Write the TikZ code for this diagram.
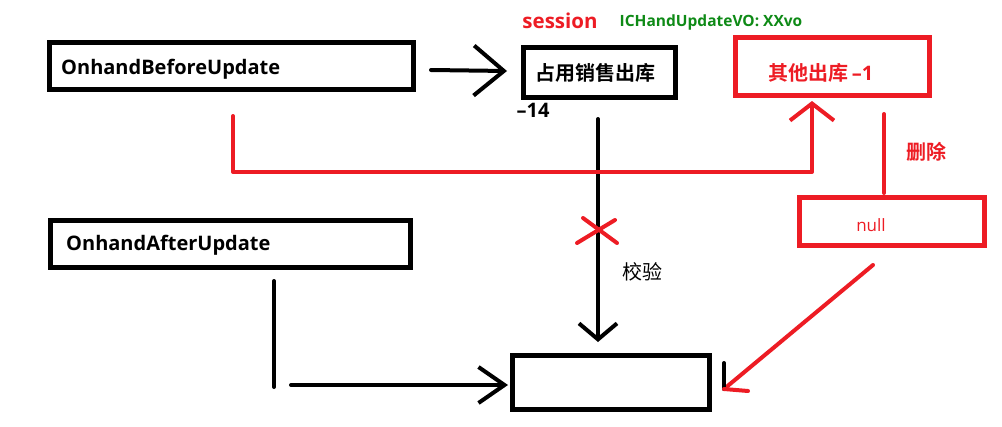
\documentclass[tikz,border=0pt]{standalone}
\usepackage{fontspec}
\setmainfont{Noto Sans CJK SC}[BoldFont={Noto Sans CJK SC Bold}]
\newfontfamily\lat{Open Sans}
\usetikzlibrary{arrows.meta,calc}
\definecolor{pred}{HTML}{ED1C24}
\definecolor{pgreen}{HTML}{0E8A16}
\tikzset{
  x=1pt, y=-1pt,
  bbox/.style={draw=black, line width=5pt, minimum width=#1, inner sep=0pt},
  rbox/.style={draw=pred, line width=5pt, minimum width=#1, inner sep=0pt},
  lbl/.style={inner sep=0pt, font=\lat\fontsize{20}{20}\selectfont\bfseries},
  conn/.style={line width=4pt, line cap=round, line join=round},
}
\begin{document}
\begin{tikzpicture}
\useasboundingbox (0,0) rectangle (1002,426);
% boxes
\node[bbox=364pt, minimum height=47pt] (before) at (231.5,66) {};
\node[bbox=152pt, minimum height=50pt] (occupy) at (599.5,72.5) {};
\node[rbox=194pt, minimum height=58pt] (other) at (832.5,66.5) {};
\node[rbox=185pt, minimum height=48pt] (null) at (892,221.5) {};
\node[bbox=360pt, minimum height=47pt] (after) at (230.5,244) {};
\node[bbox=197pt, minimum height=54pt] (result) at (611,382.5) {};
% texts
\node[lbl, anchor=west] (tbefore) at (61,69) {OnhandBeforeUpdate};
\node[lbl, anchor=west] (tafter) at (66,245) {OnhandAfterUpdate};
\node[inner sep=0pt, font=\fontsize{20}{20}\selectfont\bfseries] (toccupy) at (595,73) {占用销售出库};
\node[inner sep=0pt, text=pred, font=\fontsize{20}{20}\selectfont\bfseries] (tother) at (821,73) {其他出库{\lat\,–1}};
\node[inner sep=0pt, text=pred, font=\lat\fontsize{17}{17}\selectfont] (tnull) at (871,225) {null};
\node[lbl, text=pred, font=\lat\fontsize{20.5}{20.5}\selectfont\bfseries] (session) at (560,21) {session};
\node[lbl, text=pgreen, font=\lat\fontsize{15.5}{15.5}\selectfont\bfseries] (vo) at (711,22) {ICHandUpdateVO: XXvo};
\node[lbl, font=\lat\fontsize{20}{20}\selectfont\bfseries] (m14) at (533,110) {–14};
\node[inner sep=0pt, text=pred, font=\fontsize{20}{20}\selectfont\bfseries] (del) at (926,152) {删除};
\node[inner sep=0pt, font=\fontsize{20}{20}\selectfont] (check) at (642,272) {校验};
% coordinates
\coordinate (a1s) at (431,70);
\coordinate (a1e) at (507,71);
\coordinate (a2s) at (598,119);
\coordinate (a2e) at (598,342);
\coordinate (r1) at (233,116);
\coordinate (r2) at (233,172);
\coordinate (r3) at (812,172);
\coordinate (r4) at (812,101);
\coordinate (d1) at (884,114);
\coordinate (d2) at (884,193);
\coordinate (v1) at (274,281);
\coordinate (v2) at (274,387);
\coordinate (h1) at (291,385);
\coordinate (h2) at (508,385);
\coordinate (g1) at (873,265);
\coordinate (g2) at (724,389);
\coordinate (g3) at (724,363);
\coordinate (g4) at (748,391);
\coordinate (x0) at (598,230);
% connectors
\draw[conn, -{Straight Barb[length=30pt, width=50pt, line width=4pt]}] (a1s) -- (a1e);
\draw[conn, -{Straight Barb[length=16pt, width=38pt, line width=4pt]}] (a2s) -- (a2e);
\draw[conn, pred, -{Straight Barb[length=17pt, width=44pt, line width=4pt]}] (r1) -- (r2) -- (r3) -- (r4);
\draw[conn, pred] (d1) -- (d2);
\draw[conn] (v1) -- (v2);
\draw[conn, -{Straight Barb[length=26pt, width=36pt, line width=4pt]}] (h1) -- (h2);
\draw[conn, pred] (g1) -- (g2);
\draw[conn] (g2) -- (g3);
\draw[conn, pred] (g2) -- (g4);
% red cross
\draw[conn, pred] ($(x0)+(-21,13)$) -- ($(x0)+(17,-10)$);
\draw[conn, pred] ($(x0)+(-15,-12)$) -- ($(x0)+(19,13)$);
\end{tikzpicture}
\end{document}
